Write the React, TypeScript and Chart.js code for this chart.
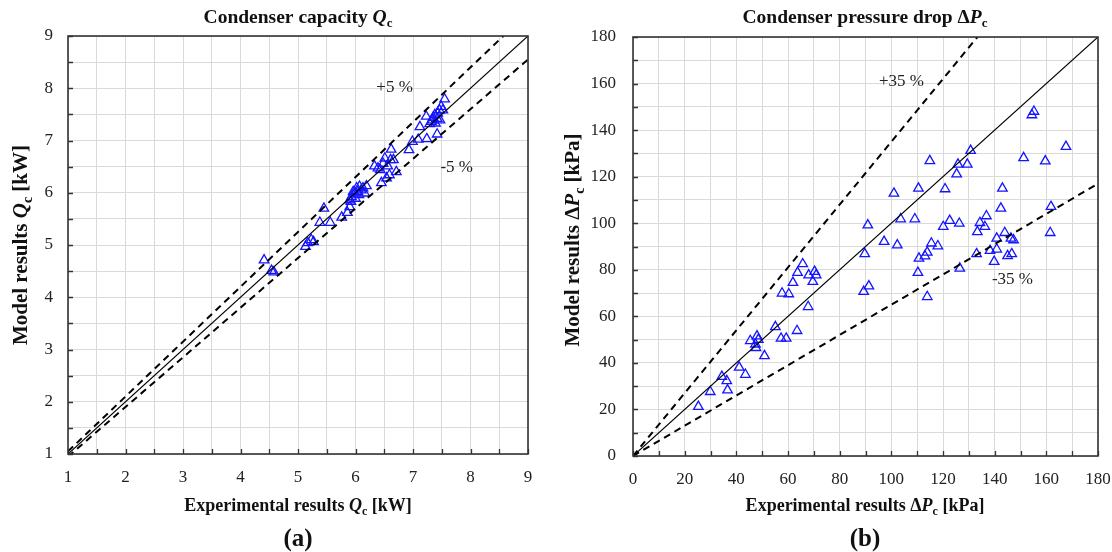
import React, { useEffect, useRef } from "react";
import { Chart, registerables } from "chart.js";
Chart.register(...registerables);

// ---------- Data: (a) Condenser capacity Qc [kW] ----------
const capExperimental = [
  4.41, 4.54, 4.58, 5.13, 5.17, 5.23, 5.27, 5.38, 5.45, 5.56,
  5.76, 5.86, 5.90, 5.92, 5.93, 5.96, 5.99, 6.02, 6.04, 6.07,
  6.10, 6.13, 6.19, 6.00, 5.90, 6.16, 6.06, 6.33, 6.39, 6.51,
  6.62, 6.66, 6.71, 6.45, 6.54, 6.59, 6.43, 6.56, 6.61, 6.48,
  6.93, 6.99, 7.09, 7.24, 7.12, 7.23, 7.42, 7.32, 7.43, 7.46,
  7.55, 7.49, 7.35, 7.39, 7.47, 7.29, 7.38, 7.52, 7.42, 7.34,
];
const capModel = [
  4.71, 4.51, 4.48, 4.97, 5.04, 5.10, 5.06, 5.43, 5.70, 5.43,
  5.53, 5.62, 5.73, 5.83, 5.92, 6.02, 5.99, 6.09, 6.02, 6.12,
  6.05, 6.09, 6.13, 5.89, 5.86, 5.99, 5.96, 6.51, 6.47, 6.66,
  6.83, 6.63, 6.40, 6.19, 6.28, 6.34, 6.44, 6.51, 6.63, 6.56,
  6.82, 6.98, 7.02, 7.03, 7.26, 7.46, 7.12, 7.36, 7.52, 7.58,
  7.79, 7.65, 7.44, 7.33, 7.39, 7.32, 7.49, 7.58, 7.42, 7.39,
];
const capRange = [1, 9];
const capStep = 0.5;
const capBand = 0.05;

// ---------- Data: (b) Condenser pressure drop dPc [kPa] ----------
const dpExperimental = [
  25.3, 29.9, 34.4, 36.3, 36.6, 41.1, 43.5, 50.9, 45.4, 47.4,
  48.0, 48.5, 47.6, 55.1, 57.3, 59.3, 63.5, 57.7, 60.3, 61.9,
  63.7, 65.7, 68.0, 69.6, 70.3, 70.9, 67.8, 89.3, 91.3, 89.7,
  90.9, 97.2, 102.3, 101.0, 103.6, 109.1, 110.5, 110.7, 110.3, 113.0,
  113.9, 115.5, 118.0, 113.9, 114.9, 120.1, 122.6, 120.8, 126.3, 126.5,
  125.3, 125.8, 129.4, 130.7, 133.0, 133.3, 134.3, 136.2, 136.8, 138.2,
  139.8, 140.8, 140.8, 142.4, 143.0, 143.9, 145.0, 146.6, 146.3, 147.3,
  151.2, 159.6, 161.8, 161.5, 167.6, 154.4, 155.2,
];
const dpModel = [
  21.2, 27.6, 34.1, 32.3, 28.3, 38.1, 35.0, 43.0, 49.5, 48.0,
  51.5, 50.0, 46.5, 55.5, 50.5, 50.5, 53.8, 69.9, 69.6, 74.5,
  78.8, 82.5, 77.7, 74.9, 79.2, 77.7, 64.1, 70.6, 73.0, 86.8,
  99.2, 92.1, 90.6, 112.8, 101.8, 101.8, 115.0, 84.9, 78.8, 85.9,
  87.5, 91.4, 90.2, 68.4, 126.8, 98.5, 101.1, 114.7, 99.9, 80.6,
  121.1, 125.3, 125.3, 131.2, 86.8, 96.3, 100.2, 98.5, 103.1, 88.2,
  83.5, 93.5, 88.8, 106.4, 115.0, 95.9, 86.0, 86.8, 93.5, 92.8,
  128.1, 126.7, 107.1, 95.9, 132.9, 146.5, 148.0,
];
const dpRange = [0, 180];
const dpStep = 10;
const dpLabelStep = 20;
const dpBand = 0.35;

type Seg = { t: string; i?: boolean; s?: boolean };
const SERIF = '"Liberation Serif", "Times New Roman", serif';

function segFont(seg: Seg, size: number, bold: boolean) {
  const sz = seg.s ? Math.round(size * 0.68) : size;
  return `${seg.i ? "italic " : ""}${bold ? "bold " : ""}${sz}px ${SERIF}`;
}

function drawRich(
  ctx: CanvasRenderingContext2D,
  segs: Seg[],
  cx: number,
  cy: number,
  size: number,
  bold: boolean,
  rotate = false
) {
  ctx.save();
  ctx.translate(cx, cy);
  if (rotate) ctx.rotate(-Math.PI / 2);
  let w = 0;
  for (const s of segs) {
    ctx.font = segFont(s, size, bold);
    w += ctx.measureText(s.t).width;
  }
  let x = -w / 2;
  const base = size * 0.34;
  ctx.textBaseline = "alphabetic";
  ctx.textAlign = "left";
  ctx.fillStyle = "#111";
  for (const s of segs) {
    ctx.font = segFont(s, size, bold);
    ctx.fillText(s.t, x, base + (s.s ? size * 0.24 : 0));
    x += ctx.measureText(s.t).width;
  }
  ctx.restore();
}

type Decor = {
  title: Seg[];
  xTitle: Seg[];
  yTitle: Seg[];
  panel: string;
  notes: { text: string; x: number; y: number }[];
  centerX: number;
  yTitleX: number;
  yTitleY: number;
};

function makeDecor(d: Decor) {
  return {
    id: "decor",
    afterDraw(chart: any) {
      const { ctx, chartArea: a, scales } = chart;
      const xs = scales.x;
      const ys = scales.y;
      ctx.save();
      // inward tick marks
      ctx.strokeStyle = "#333";
      ctx.lineWidth = 1.3;
      ctx.beginPath();
      for (const t of xs.ticks) {
        const px = Math.round(xs.getPixelForValue(t.value)) + 0.5;
        ctx.moveTo(px, a.bottom);
        ctx.lineTo(px, a.bottom - 5);
      }
      for (const t of ys.ticks) {
        const py = Math.round(ys.getPixelForValue(t.value)) + 0.5;
        ctx.moveTo(a.left, py);
        ctx.lineTo(a.left + 5, py);
      }
      ctx.stroke();
      // frame
      ctx.lineWidth = 1.6;
      ctx.strokeStyle = "#333";
      ctx.strokeRect(a.left, a.top, a.right - a.left, a.bottom - a.top);
      // notes
      ctx.font = `17px ${SERIF}`;
      ctx.fillStyle = "#222";
      ctx.textAlign = "center";
      ctx.textBaseline = "middle";
      for (const n of d.notes) {
        ctx.fillText(n.text, xs.getPixelForValue(n.x), ys.getPixelForValue(n.y));
      }
      ctx.restore();
      // titles
      drawRich(ctx, d.title, d.centerX, 16, 19.5, true);
      drawRich(ctx, d.xTitle, d.centerX, 505, 18, true);
      drawRich(ctx, d.yTitle, d.yTitleX, d.yTitleY, 21, true, true);
      drawRich(ctx, [{ t: d.panel }], d.centerX, 537, 25, true);
    },
  };
}

function buildConfig(opts: {
  xv: number[];
  yv: number[];
  range: number[];
  step: number;
  isLabel: (v: number) => boolean;
  band: number;
  yAxisWidth: number;
  xAxisHeight: number;
  padTop: number;
  padRight: number;
  yPad: number;
  decor: Decor;
}) {
  const [lo, hi] = opts.range;
  const pts = opts.xv.map((x, i) => ({ x, y: opts.yv[i] }));
  const up = 1 + opts.band;
  const dn = 1 - opts.band;
  const lineBase = {
    type: "line" as const,
    showLine: true,
    pointRadius: 0,
    borderColor: "#000",
    fill: false,
    tension: 0,
  };
  const scaleCommon = (axis: "x" | "y") => ({
    type: "linear" as const,
    min: lo,
    max: hi,
    grid: { color: "#dadada", lineWidth: 1, drawTicks: false },
    border: { display: false },
    ticks: {
      stepSize: opts.step,
      autoSkip: false,
      maxRotation: 0,
      padding: axis === "x" ? 13 : opts.yPad,
      color: "#222",
      font: { family: SERIF, size: 17 },
      callback: (v: number) => (opts.isLabel(v) ? String(v) : ""),
    },
    afterFit: (s: any) => {
      if (axis === "x") {
        s.height = opts.xAxisHeight;
        s.paddingLeft = 0;
        s.paddingRight = 0;
      } else {
        s.width = opts.yAxisWidth;
        s.paddingTop = 0;
        s.paddingBottom = 0;
      }
    },
  });
  return {
    type: "scatter" as const,
    data: {
      datasets: [
        {
          ...lineBase,
          data: [{ x: lo, y: lo }, { x: hi, y: hi }],
          borderWidth: 1.2,
        },
        {
          ...lineBase,
          data: [{ x: lo, y: lo * up }, { x: hi / up, y: hi }],
          borderWidth: 2,
          borderDash: [7, 5],
        },
        {
          ...lineBase,
          data: [{ x: lo, y: lo * dn }, { x: hi, y: hi * dn }],
          borderWidth: 2,
          borderDash: [7, 5],
        },
        {
          type: "scatter" as const,
          data: pts,
          pointStyle: "triangle",
          pointRadius: 5.5,
          borderColor: "rgb(20,20,255)",
          backgroundColor: "rgba(0,0,0,0)",
          borderWidth: 1.3,
        },
      ],
    },
    options: {
      animation: false as const,
      responsive: false,
      maintainAspectRatio: false,
      layout: {
        padding: { top: opts.padTop, right: opts.padRight, left: 0, bottom: 0 },
      },
      plugins: {
        legend: { display: false },
        title: { display: false },
        tooltip: { enabled: false },
      },
      scales: { x: scaleCommon("x"), y: scaleCommon("y") },
    },
    plugins: [makeDecor(opts.decor)],
  };
}

function ChartCanvas({ config, left }: { config: any; left: number }) {
  const ref = useRef<HTMLCanvasElement>(null);
  useEffect(() => {
    if (!ref.current) return;
    const c = new Chart(ref.current, config);
    return () => c.destroy();
  }, [config]);
  return (
    <canvas
      ref={ref}
      width={556}
      height={552}
      style={{ position: "absolute", left, top: 0, width: 556, height: 552 }}
    />
  );
}

const capConfig = buildConfig({
  xv: capExperimental,
  yv: capModel,
  range: capRange,
  step: capStep,
  isLabel: (v) => Number.isInteger(v),
  band: capBand,
  yAxisWidth: 68,
  xAxisHeight: 98,
  padTop: 36,
  padRight: 28,
  yPad: 15,
  decor: {
    title: [{ t: "Condenser capacity " }, { t: "Q", i: true }, { t: "c", s: true }],
    xTitle: [
      { t: "Experimental results " },
      { t: "Q", i: true },
      { t: "c", s: true },
      { t: " [kW]" },
    ],
    yTitle: [
      { t: "Model results " },
      { t: "Q", i: true },
      { t: "c", s: true },
      { t: " [kW]" },
    ],
    panel: "(a)",
    notes: [
      { text: "+5 %", x: 6.68, y: 8.02 },
      { text: "-5 %", x: 7.76, y: 6.49 },
    ],
    centerX: 298,
    yTitleX: 20,
    yTitleY: 245,
  },
});

const dpConfig = buildConfig({
  xv: dpExperimental,
  yv: dpModel,
  range: dpRange,
  step: dpStep,
  isLabel: (v) => v % dpLabelStep === 0,
  band: dpBand,
  yAxisWidth: 77,
  xAxisHeight: 96,
  padTop: 37,
  padRight: 14,
  yPad: 17,
  decor: {
    title: [{ t: "Condenser pressure drop Δ" }, { t: "P", i: true }, { t: "c", s: true }],
    xTitle: [
      { t: "Experimental results Δ" },
      { t: "P", i: true },
      { t: "c", s: true },
      { t: " [kPa]" },
    ],
    yTitle: [
      { t: "Model results Δ" },
      { t: "P", i: true },
      { t: "c", s: true },
      { t: " [kPa]" },
    ],
    panel: "(b)",
    notes: [
      { text: "+35 %", x: 103.9, y: 160.7 },
      { text: "-35 %", x: 146.9, y: 75.8 },
    ],
    centerX: 309,
    yTitleX: 16,
    yTitleY: 240,
  },
});

export default function App() {
  return (
    <div
      style={{
        position: "absolute",
        left: 0,
        top: 0,
        width: 1112,
        height: 552,
        background: "#fff",
        overflow: "hidden",
      }}
    >
      <ChartCanvas config={capConfig} left={0} />
      <ChartCanvas config={dpConfig} left={556} />
    </div>
  );
}
